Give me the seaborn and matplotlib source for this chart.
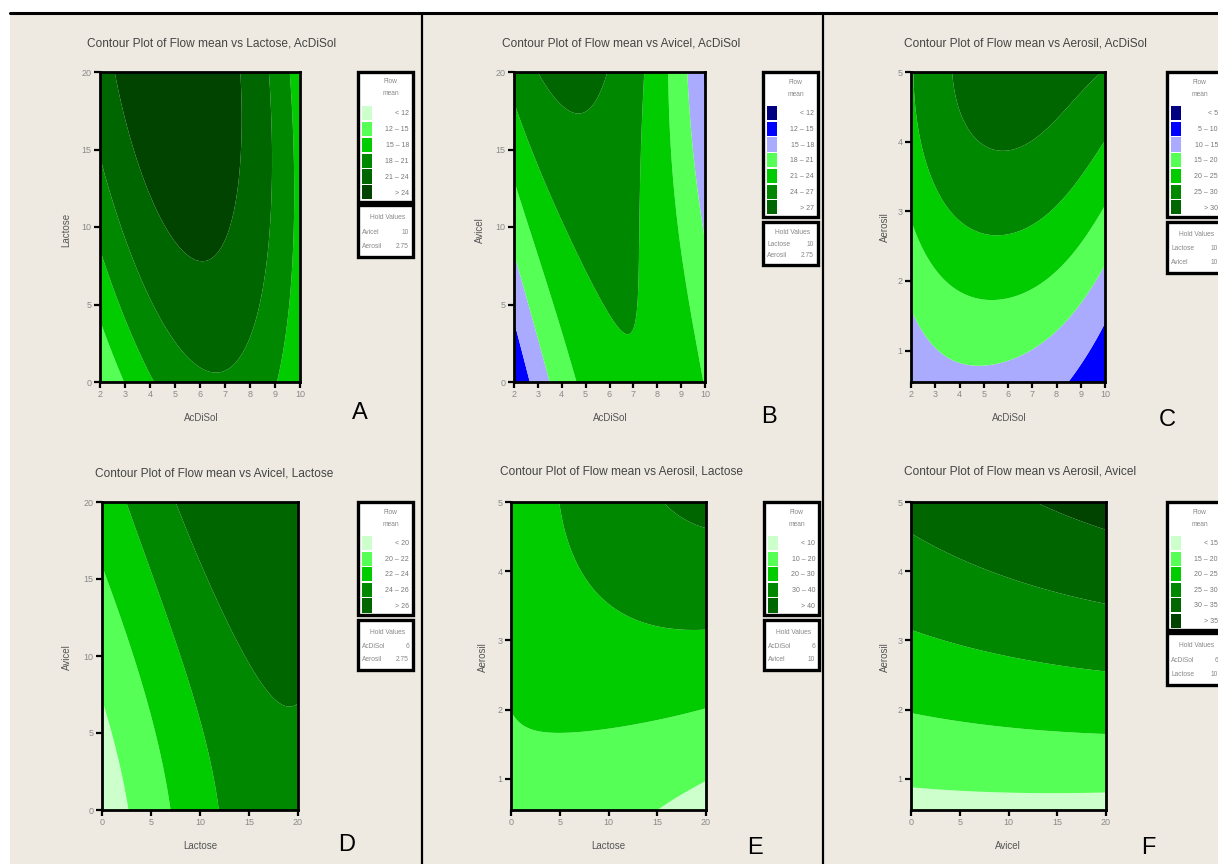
import numpy as np
import matplotlib
matplotlib.use("Agg")
import matplotlib.pyplot as plt
import seaborn as sns
from matplotlib.patches import Rectangle
from matplotlib.lines import Line2D

sns.set_theme(style="white")
plt.rcParams['font.family'] = ['Liberation Sans', 'DejaVu Sans']

W, H = 1218, 864
BEIGE = '#EEEAE1'
GREENS6 = ['#CCFFCC', '#55FF55', '#00CC00', '#008800', '#006600', '#004400']
GREENS5 = GREENS6[:5]
BLUEGREEN7 = ['#000080', '#0000FF', '#AAAAFF', '#55FF55', '#00CC00', '#008800', '#006600']

# ---------------- Panel A: Lactose vs AcDiSol ----------------
A_levels = [12, 15, 18, 21, 24]
A_labels = ['< 12', '12 – 15', '15 – 18', '18 – 21', '21 – 24', '> 24']
A_line_levels = [24, 21, 18, 15]
A_line_x = [[2.6, 3.5, 4.3, 5.2, 6.0, 6.4, 7.3, 7.7, 7.7],
            [2.0, 3.1, 4.0, 5.1, 6.1, 7.1, 7.9, 8.5, 8.7, 8.7],
            [2.0, 3.0, 4.07, 9.1, 9.6, 9.85, 9.6],
            [2.0, 2.5, 3.0]]
A_line_y = [[20, 15, 10.6, 8.3, 7.4, 7.4, 9.6, 13.9, 20],
            [14.1, 9.6, 5.7, 2.5, 0.8, 0.8, 3.1, 7.4, 13.9, 20],
            [8.3, 4.0, 0, 0, 5.3, 11.7, 20],
            [3.9, 1.9, 0]]
A_extra_x, A_extra_y, A_extra_z = [5.2], [20], [26.5]
A_hold = [('Avicel', '10'), ('Aerosil', '2.75')]

# ---------------- Panel B: Avicel vs AcDiSol ----------------
B_levels = [12, 15, 18, 21, 24, 27]
B_labels = ['< 12', '12 – 15', '15 – 18', '18 – 21', '21 – 24', '24 – 27', '> 27']
B_line_levels = [27, 24, 21, 21, 18, 18, 15, 15]
B_line_x = [[3.18, 3.9, 4.78, 5.6, 5.83],
            [2.07, 3.04, 4.16, 5.41, 6.38, 6.73, 7.08, 7.22, 7.36, 7.36],
            [2.0, 3.3, 4.64],
            [8.47, 8.54, 8.89, 9.45, 9.86],
            [2.07, 2.8, 3.53],
            [9.31, 9.52, 9.79, 9.97],
            [2.07, 2.35, 2.63],
            [9.97, 9.9]]
B_line_y = [[20, 18.4, 17.8, 18.6, 20],
            [17.5, 13.9, 9.6, 5.9, 3.1, 2.7, 5.3, 11.7, 16.5, 20],
            [12.9, 6.5, 0],
            [20, 16.0, 9.6, 4.2, 0.6],
            [8.1, 4.0, 0],
            [20, 15.0, 11.3, 9.2],
            [3.6, 1.8, 0],
            [19.5, 20]]
B_extra_x, B_extra_y, B_extra_z = [4.8], [20], [28.5]
B_hold = [('Lactose', '10'), ('Aerosil', '2.75')]

# ---------------- Panel C: Aerosil vs AcDiSol ----------------
C_levels = [5, 10, 15, 20, 25, 30]
C_labels = ['< 5', '5 – 10', '10 – 15', '15 – 20', '20 – 25', '25 – 30', '> 30']
C_line_levels = [30, 25, 20, 15, 10]
C_line_x = [[3.54, 4.09, 4.91, 6.08, 7.25, 8.21, 9.18, 9.73],
            [2.14, 2.44, 2.99, 4.09, 5.46, 6.56, 7.66, 8.63, 9.45, 10.0],
            [2.0, 2.44, 3.26, 4.36, 5.33, 6.43, 7.39, 8.49, 9.31, 10.0],
            [2.0, 3.13, 4.23, 5.33, 6.29, 7.39, 8.63, 9.45, 10.0],
            [8.14, 8.6, 9.04, 9.5, 10.0]]
C_line_y = [[5.0, 4.45, 4.11, 3.92, 4.06, 4.4, 4.78, 5.0],
            [5.0, 3.78, 3.25, 2.91, 2.75, 2.77, 2.96, 3.25, 3.63, 3.97],
            [3.01, 2.29, 1.95, 1.76, 1.71, 1.76, 1.95, 2.39, 2.75, 3.15],
            [1.71, 1.24, 0.9, 0.76, 0.78, 1.0, 1.43, 1.86, 2.24],
            [0.55, 0.7, 0.85, 1.12, 1.43]]
C_extra_x, C_extra_y, C_extra_z = [6.3, 2.0, 10.0, 2.0], [5.0, 4.4, 0.55, 0.55], [32.5, 24.0, 6.0, 12.5]
C_hold = [('Lactose', '10'), ('Avicel', '10')]

# ---------------- Panel D: Avicel vs Lactose ----------------
D_levels = [20, 22, 24, 26]
D_labels = ['< 20', '20 – 22', '22 – 24', '24 – 26', '> 26']
D_line_levels = [26, 24, 22, 20]
D_line_x = [[7.63, 8.98, 10.68, 12.7, 15.1, 17.5, 20.0],
            [2.37, 3.9, 5.93, 7.97, 9.66, 11.0, 12.0],
            [0.0, 1.5, 3.56, 5.25, 6.78],
            [0.0, 1.19, 2.88]]
D_line_y = [[20, 17.5, 14.5, 11.9, 9.7, 7.8, 6.4],
            [20, 17.5, 14.3, 10.6, 6.7, 3.46, 0],
            [15.9, 13.2, 9.1, 5.2, 0],
            [7.1, 4.5, 0]]
D_extra_x, D_extra_y, D_extra_z = [20], [20], [28]
D_hold = [('AcDiSol', '6'), ('Aerosil', '2.75')]

# ---------------- Panel E: Aerosil vs Lactose ----------------
E_levels = [10, 20, 30, 40]
E_labels = ['< 10', '10 – 20', '20 – 30', '30 – 40', '> 40']
E_line_levels = [40, 30, 20, 10]
E_line_x = [[15.4, 17.4, 20.0],
            [5.0, 6.6, 9.1, 13.2, 17.3, 20.0],
            [0.0, 2.0, 5.0, 10.0, 15.0, 20.0],
            [15.3, 17.5, 20.0]]
E_line_y = [[5.0, 4.81, 4.67],
            [5.0, 4.16, 3.58, 3.3, 3.18, 3.15],
            [1.95, 1.72, 1.68, 1.75, 1.85, 1.98],
            [0.55, 0.78, 1.0]]
E_extra_x, E_extra_y, E_extra_z = [20], [5.0], [42]
E_hold = [('AcDiSol', '6'), ('Avicel', '10')]

# ---------------- Panel F: Aerosil vs Avicel ----------------
F_levels = [15, 20, 25, 30, 35]
F_labels = ['< 15', '15 – 20', '20 – 25', '25 – 30', '30 – 35', '> 35']
F_line_levels = [35, 30, 25, 20, 15]
F_line_x = [[10.0, 15.0, 20.0],
            [0.0, 10.0, 20.0],
            [0.0, 10.0, 20.0],
            [0.0, 10.0, 20.0],
            [0.0, 10.0, 20.0]]
F_line_y = [[5.0, 4.78, 4.58],
            [4.68, 4.0, 3.45],
            [3.07, 2.75, 2.42],
            [1.95, 1.87, 1.8],
            [0.85, 0.8, 0.75]]
F_extra_x, F_extra_y, F_extra_z = [20], [5.0], [36]
F_hold = [('AcDiSol', '6'), ('Lactose', '10')]


def poly_terms(u, v, deg):
    return np.stack([u ** i * v ** j for i in range(deg + 1) for j in range(deg + 1 - i)], axis=-1)


def surface(line_levels, line_x, line_y, ex, ey, ez, xlim, ylim, deg, n=300):
    px, py, pz = [], [], []
    for lev, lx, ly in zip(line_levels, line_x, line_y):
        px += list(lx)
        py += list(ly)
        pz += [lev] * len(lx)
    px += list(ex); py += list(ey); pz += list(ez)

    def nrm(a, lim):
        return (np.asarray(a, float) - lim[0]) / (lim[1] - lim[0]) * 2 - 1

    M = poly_terms(nrm(px, xlim), nrm(py, ylim), deg)
    coef = np.linalg.lstsq(M, np.asarray(pz, float), rcond=None)[0]
    gx = np.linspace(xlim[0], xlim[1], n)
    gy = np.linspace(ylim[0], ylim[1], n)
    GX, GY = np.meshgrid(gx, gy)
    Z = poly_terms(nrm(GX, xlim), nrm(GY, ylim), deg) @ coef
    return GX, GY, Z


fig = plt.figure(figsize=(W / 100, H / 100), dpi=100, facecolor='white')
bg = Rectangle((10 / W, 0), 1 - 10 / W, 1 - 13 / H, transform=fig.transFigure,
               facecolor=BEIGE, edgecolor='none', zorder=-10)
fig.patches.append(bg)
fig.add_artist(Line2D([10 / W, 1], [1 - 13 / H, 1 - 13 / H], color='black', lw=2.2,
                      transform=fig.transFigure, zorder=5))
for xd in (422, 823):
    fig.add_artist(Line2D([xd / W, xd / W], [0, 1 - 13 / H], color='black', lw=1.6,
                          transform=fig.transFigure, zorder=5))


def px_axes(x0, y0, x1, y1):
    return fig.add_axes([x0 / W, 1 - y1 / H, (x1 - x0) / W, (y1 - y0) / H])


TXT = '#555555'


def draw_panel(box, xlim, ylim, xticks, yticks, surf, levels, colors, title, title_xy,
               xlabel, xlabel_xy, ylabel, ylabel_xy, letter, letter_xy):
    ax = px_axes(*box)
    ax.set_zorder(2)
    GX, GY, Z = surf
    ax.contourf(GX, GY, Z, levels=[-1e9] + levels + [1e9], colors=colors, antialiased=True)
    ax.set_xlim(xlim)
    ax.set_ylim(ylim)
    ax.set_xticks(xticks)
    ax.set_yticks(yticks)
    ax.set_xticklabels([str(t) for t in xticks])
    ax.set_yticklabels([str(t) for t in yticks])
    for s in ax.spines.values():
        s.set_color('black')
        s.set_linewidth(2.0)
        s.set_visible(True)
    ax.tick_params(axis='both', direction='out', length=4, width=1.6, color='black',
                   labelsize=6.5, labelcolor='#8a8a8a', pad=2, bottom=True, left=True)
    ax.set_xlabel('')
    ax.set_ylabel('')
    fig.text(title_xy[0] / W, 1 - title_xy[1] / H, title, ha='center', va='center',
             fontsize=8.6, color='#444444')
    fig.text(xlabel_xy[0] / W, 1 - xlabel_xy[1] / H, xlabel, ha='center', va='center',
             fontsize=7, color=TXT)
    fig.text(ylabel_xy[0] / W, 1 - ylabel_xy[1] / H, ylabel, ha='center', va='center',
             fontsize=7, color=TXT, rotation=90)
    fig.text(letter_xy[0] / W, 1 - letter_xy[1] / H, letter, ha='center', va='center',
             fontsize=17, color='black')


def draw_legend(x0, y0, y1, labels, colors, hy0, hy1, hold):
    w = 55
    h = y1 - y0
    ax = px_axes(x0, y0, x0 + w, y1)
    ax.set_zorder(3)
    ax.set_xlim(0, w)
    ax.set_ylim(h, 0)
    ax.axis('off')
    ax.add_patch(Rectangle((0, 0), w, h, facecolor='white', edgecolor='black', lw=2.4, clip_on=False))
    ax.text(w / 2 + 5, 10, 'Flow', ha='center', va='center', fontsize=4.8, color='#888888')
    ax.text(w / 2 + 5, 22, 'mean', ha='center', va='center', fontsize=4.8, color='#888888')
    top = 34
    band = (h - top - 1) / len(labels)
    for i, (lab, col) in enumerate(zip(labels, colors)):
        ax.add_patch(Rectangle((4, top + i * band), 10, band - 1.5, facecolor=col, edgecolor='none'))
        ax.text(w - 4, top + (i + 0.5) * band, lab, ha='right', va='center', fontsize=5, color='#777777')
    hh = hy1 - hy0
    ax2 = px_axes(x0, hy0, x0 + w, hy1)
    ax2.set_zorder(3)
    ax2.set_xlim(0, w)
    ax2.set_ylim(hh, 0)
    ax2.axis('off')
    ax2.add_patch(Rectangle((0, 0), w, hh, facecolor='white', edgecolor='black', lw=2.4, clip_on=False))
    ax2.text(w / 2 + 2, hh * 0.24, 'Hold Values', ha='center', va='center', fontsize=4.8, color='#888888')
    for k, (name, val) in enumerate(hold):
        yy = hh * (0.52 + 0.27 * k)
        ax2.text(4, yy, name, ha='left', va='center', fontsize=4.8, color='#888888')
        ax2.text(w - 4, yy, val, ha='right', va='center', fontsize=4.8, color='#888888')


# Panel A
sA = surface(A_line_levels, A_line_x, A_line_y, A_extra_x, A_extra_y, A_extra_z, (2, 10), (0, 20), 3)
draw_panel((100, 72, 300, 382), (2, 10), (0, 20), list(range(2, 11)), [0, 5, 10, 15, 20], sA,
           A_levels, GREENS6, 'Contour Plot of Flow mean vs Lactose, AcDiSol', (212, 43),
           'AcDiSol', (201, 418), 'Lactose', (66, 230), 'A', (360, 413))
draw_legend(358, 72, 202, A_labels, GREENS6, 205, 257, A_hold)

# Panel B
sB = surface(B_line_levels, B_line_x, B_line_y, B_extra_x, B_extra_y, B_extra_z, (2, 10), (0, 20), 4)
draw_panel((514, 72, 705, 382), (2, 10), (0, 20), list(range(2, 11)), [0, 5, 10, 15, 20], sB,
           B_levels, BLUEGREEN7, 'Contour Plot of Flow mean vs Avicel, AcDiSol', (621, 43),
           'AcDiSol', (610, 418), 'Avicel', (480, 230), 'B', (769, 417))
draw_legend(763, 72, 217, B_labels, BLUEGREEN7, 222, 265, B_hold)

# Panel C
sC = surface(C_line_levels, C_line_x, C_line_y, C_extra_x, C_extra_y, C_extra_z, (2, 10), (0.55, 5), 4)
draw_panel((911, 72, 1105, 382), (2, 10), (0.55, 5), list(range(2, 11)), [1, 2, 3, 4, 5], sC,
           C_levels, BLUEGREEN7, 'Contour Plot of Flow mean vs Aerosil, AcDiSol', (1025, 43),
           'AcDiSol', (1009, 418), 'Aerosil', (885, 227), 'C', (1167, 420))
draw_legend(1167, 72, 217, C_labels, BLUEGREEN7, 222, 273, C_hold)

# Panel D
sD = surface(D_line_levels, D_line_x, D_line_y, D_extra_x, D_extra_y, D_extra_z, (0, 20), (0, 20), 3)
draw_panel((102, 502, 298, 810), (0, 20), (0, 20), [0, 5, 10, 15, 20], [0, 5, 10, 15, 20], sD,
           D_levels, GREENS5, 'Contour Plot of Flow mean vs Avicel, Lactose', (214, 473),
           'Lactose', (200, 846), 'Avicel', (67, 657), 'D', (347, 845))
draw_legend(358, 502, 615, D_labels, GREENS5, 620, 670, D_hold)

# Panel E
sE = surface(E_line_levels, E_line_x, E_line_y, E_extra_x, E_extra_y, E_extra_z, (0, 20), (0.55, 5), 3)
draw_panel((511, 502, 706, 810), (0, 20), (0.55, 5), [0, 5, 10, 15, 20], [1, 2, 3, 4, 5], sE,
           E_levels, GREENS5, 'Contour Plot of Flow mean vs Aerosil, Lactose', (622, 472),
           'Lactose', (608, 846), 'Aerosil', (483, 657), 'E', (755, 848))
draw_legend(764, 502, 615, E_labels, GREENS5, 620, 670, E_hold)

# Panel F
sF = surface(F_line_levels, F_line_x, F_line_y, F_extra_x, F_extra_y, F_extra_z, (0, 20), (0.55, 5), 2)
draw_panel((911, 502, 1106, 810), (0, 20), (0.55, 5), [0, 5, 10, 15, 20], [1, 2, 3, 4, 5], sF,
           F_levels, GREENS6, 'Contour Plot of Flow mean vs Aerosil, Avicel', (1020, 472),
           'Avicel', (1008, 846), 'Aerosil', (885, 657), 'F', (1148, 848))
draw_legend(1167, 502, 630, F_labels, GREENS6, 633, 685, F_hold)

fig.savefig('out.png', dpi=100, facecolor=fig.get_facecolor())
